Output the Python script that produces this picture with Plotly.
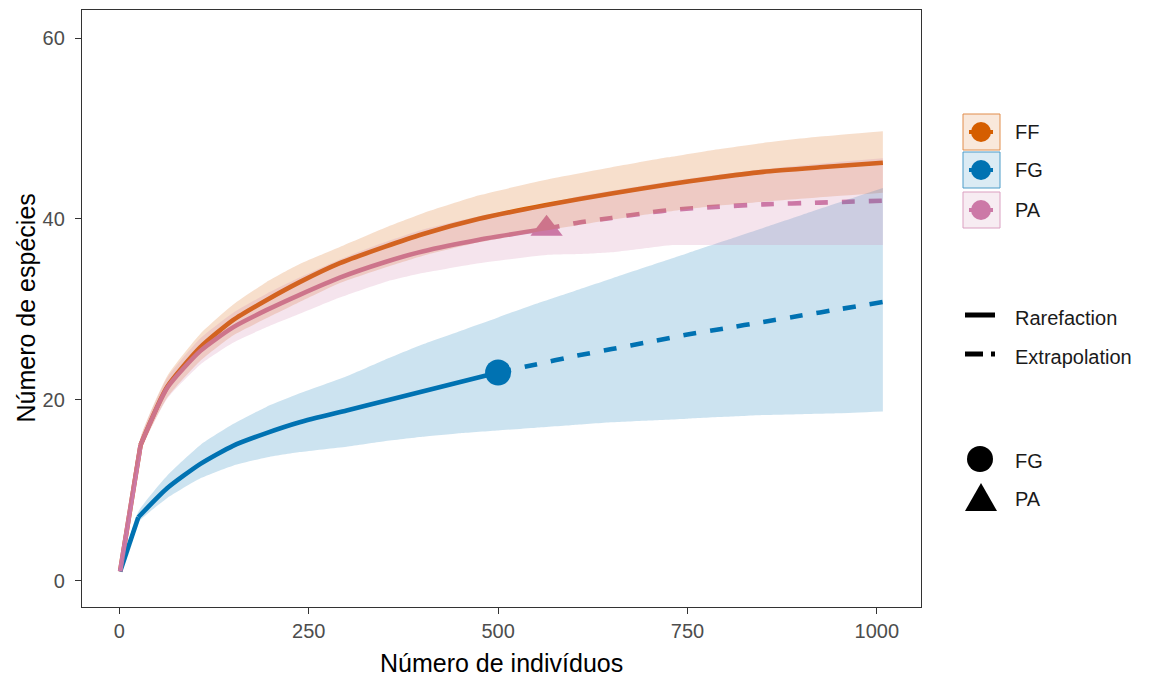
import plotly.graph_objects as go

# ---------------- data ----------------
# FF: rarefaction only
m_ff = [1, 28, 63, 107, 150, 194, 238, 291, 350, 400, 475, 562, 650, 724, 782, 850, 925, 1008]
s_ff = [1, 15.0, 21.4, 25.8, 28.8, 31.0, 33.0, 35.1, 36.9, 38.3, 40.0, 41.5, 42.8, 43.8, 44.5, 45.2, 45.7, 46.2]
ff_hi = [1, 15.8, 22.6, 27.3, 30.5, 33.0, 35.0, 36.9, 39.0, 40.6, 42.6, 44.3, 45.7, 46.8, 47.6, 48.4, 49.1, 49.7]
ff_lo = [1, 14.2, 20.2, 24.3, 27.1, 29.0, 30.8, 32.9, 34.6, 35.9, 37.4, 38.7, 39.9, 40.8, 41.4, 41.9, 42.4, 42.9]

# PA: rarefaction + extrapolation
m_pa = [1, 28, 63, 107, 150, 194, 238, 291, 350, 400, 475, 564]
s_pa = [1, 15.0, 21.3, 25.4, 28.0, 29.9, 31.6, 33.5, 35.2, 36.4, 37.7, 38.9]
pa_hi = [1, 15.8, 22.4, 26.8, 29.6, 31.7, 33.5, 35.5, 37.4, 38.8, 40.3, 41.7]
pa_lo = [1, 14.2, 20.1, 23.9, 26.3, 28.0, 29.5, 31.3, 33.0, 34.0, 35.1, 36.0]
m_pa_ext = [564, 607, 650, 700, 730, 782, 850, 925, 1008]
s_pa_ext = [38.9, 39.6, 40.1, 40.7, 41.0, 41.3, 41.6, 41.8, 42.0]
pa_ext_hi = [41.7, 42.5, 43.1, 43.8, 44.2, 44.8, 45.5, 46.1, 46.7]
pa_ext_lo = [36.0, 36.1, 36.3, 36.8, 37.1, 37.1, 37.1, 37.1, 37.1]

# FG: rarefaction + extrapolation
m_fg = [1, 25, 63, 107, 150, 194, 238, 300, 350, 400, 450, 500]
s_fg = [1, 7.0, 10.2, 12.9, 14.9, 16.3, 17.5, 18.8, 19.85, 20.9, 21.95, 23.0]
fg_hi = [1, 7.6, 11.6, 15.0, 17.3, 19.2, 20.7, 22.6, 24.4, 26.1, 27.6, 29.1]
fg_lo = [1, 6.4, 9.1, 11.3, 12.7, 13.6, 14.2, 14.8, 15.4, 15.9, 16.3, 16.6]
m_fg_ext = [500, 550, 600, 650, 700, 750, 800, 850, 900, 950, 1008]
s_fg_ext = [23.0, 23.9, 24.8, 25.6, 26.4, 27.2, 27.9, 28.6, 29.3, 30.0, 30.8]
fg_ext_hi = [29.1, 30.6, 32.0, 33.4, 34.8, 36.2, 37.6, 39.0, 40.4, 41.8, 43.4]
fg_ext_lo = [16.6, 16.9, 17.2, 17.5, 17.7, 17.9, 18.1, 18.3, 18.4, 18.5, 18.7]

# observed points
obs_sites = ["FG", "PA"]
obs_m = [500, 564]
obs_s = [23.0, 38.9]

sites = ["FF", "FG", "PA"]
colors = {"FF": "#D55E00", "FG": "#0072B2", "PA": "#CC79A7"}
fills = {"FF": "rgba(213,94,0,0.2)", "FG": "rgba(0,114,178,0.2)", "PA": "rgba(204,121,167,0.2)"}

x_ticks = [0, 250, 500, 750, 1000]
y_ticks = [0, 20, 40, 60]
x_title = "Número de indivíduos"
y_title = "Número de espécies"
linetype_labels = ["Rarefaction", "Extrapolation"]

FONT = "Liberation Sans, Arial, sans-serif"
W, H = 1154, 677
L, R, T, B = 82, 921, 10, 607
DASH = "13px,14px"
LW = 4.6
SMOOTH = 0.6

fig = go.Figure()


def line(x, y, site, dash="solid"):
    # first (steep) segment straight, rest smoothed
    fig.add_trace(go.Scatter(x=x[:2], y=y[:2], mode="lines", showlegend=False, hoverinfo="skip",
                             line=dict(color=colors[site], width=LW, dash=dash)))
    fig.add_trace(go.Scatter(x=x[1:], y=y[1:], mode="lines", showlegend=False, hoverinfo="skip",
                             line=dict(color=colors[site], width=LW, dash=dash,
                                       shape="spline", smoothing=SMOOTH)))


def ext_line(x, y, site):
    fig.add_trace(go.Scatter(x=x, y=y, mode="lines", showlegend=False, hoverinfo="skip",
                             line=dict(color=colors[site], width=LW, dash=DASH,
                                       shape="spline", smoothing=SMOOTH)))


line(m_ff, s_ff, "FF")
line(m_fg, s_fg, "FG")
ext_line(m_fg_ext, s_fg_ext, "FG")
line(m_pa, s_pa, "PA")
ext_line(m_pa_ext, s_pa_ext, "PA")

# observed points
symbols = {"FG": "circle", "PA": "triangle-up"}
sizes = {"FG": 26, "PA": 28}
for site, mx, sy in zip(obs_sites, obs_m, obs_s):
    fig.add_trace(go.Scatter(x=[mx], y=[sy], mode="markers", showlegend=False, hoverinfo="skip",
                             marker=dict(color=colors[site], symbol=symbols[site], size=sizes[site],
                                         line=dict(width=0))))


# ribbons (drawn on top, like ggiNEXT): lower edge, then upper edge filled to it
def ribbon(x, lo, hi, site):
    fig.add_trace(go.Scatter(x=x, y=lo, mode="lines", showlegend=False, hoverinfo="skip",
                             line=dict(width=0, color="rgba(0,0,0,0)", shape="spline", smoothing=0.5)))
    fig.add_trace(go.Scatter(x=x, y=hi, mode="lines", fill="tonexty", fillcolor=fills[site],
                             showlegend=False, hoverinfo="skip",
                             line=dict(width=0, color="rgba(0,0,0,0)", shape="spline", smoothing=0.5)))


ribbon(m_ff, ff_lo, ff_hi, "FF")
ribbon(m_fg + m_fg_ext[1:], fg_lo + fg_ext_lo[1:], fg_hi + fg_ext_hi[1:], "FG")
ribbon(m_pa + m_pa_ext[1:], pa_lo + pa_ext_lo[1:], pa_hi + pa_ext_hi[1:], "PA")


# ---------------- manual legend ----------------
def px(X):
    return (X - L) / (R - L)


def py(Y):
    return (B - Y) / (B - T)


shapes = []
ann = []
TXT = dict(family=FONT, size=20, color="#1a1a1a")
key_rows = {"FF": 132, "FG": 170, "PA": 210}
for site in sites:
    cy = key_rows[site]
    shapes.append(dict(type="rect", xref="paper", yref="paper", x0=px(963), x1=px(1000),
                       y0=py(cy + 18), y1=py(cy - 18), fillcolor=fills[site],
                       line=dict(color=colors[site], width=1), opacity=0.7, layer="above"))
    shapes.append(dict(type="line", xref="paper", yref="paper", x0=px(969), x1=px(993),
                       y0=py(cy), y1=py(cy), line=dict(color=colors[site], width=4), layer="above"))
    shapes.append(dict(type="circle", xref="paper", yref="paper", x0=px(971), x1=px(991),
                       y0=py(cy + 10), y1=py(cy - 10), fillcolor=colors[site],
                       line=dict(width=0), layer="above"))
    ann.append(dict(xref="paper", yref="paper", x=px(1013), y=py(cy), text=site, showarrow=False,
                    xanchor="left", yanchor="middle", font=TXT))

# linetype legend
shapes.append(dict(type="line", xref="paper", yref="paper", x0=px(965), x1=px(995),
                   y0=py(315), y1=py(315), line=dict(color="black", width=5), layer="above"))
shapes.append(dict(type="line", xref="paper", yref="paper", x0=px(965), x1=px(983),
                   y0=py(354), y1=py(354), line=dict(color="black", width=5), layer="above"))
shapes.append(dict(type="line", xref="paper", yref="paper", x0=px(991), x1=px(995),
                   y0=py(354), y1=py(354), line=dict(color="black", width=5), layer="above"))
for lab, cy in zip(linetype_labels, [318, 357]):
    ann.append(dict(xref="paper", yref="paper", x=px(1013), y=py(cy), text=lab, showarrow=False,
                    xanchor="left", yanchor="middle", font=TXT))

# shape legend
shapes.append(dict(type="circle", xref="paper", yref="paper", x0=px(967), x1=px(993),
                   y0=py(472), y1=py(446), fillcolor="black", line=dict(width=0), layer="above"))
tri = "M {} {} L {} {} L {} {} Z".format(px(965), py(511), px(997), py(511), px(981), py(483))
shapes.append(dict(type="path", xref="paper", yref="paper", path=tri, fillcolor="black",
                   line=dict(width=0), layer="above"))
for lab, cy in zip(obs_sites, [461, 499]):
    ann.append(dict(xref="paper", yref="paper", x=px(1013), y=py(cy), text=lab, showarrow=False,
                    xanchor="left", yanchor="middle", font=TXT))

# axis titles
ann.append(dict(xref="paper", yref="paper", x=0.5, y=py(663), text=x_title, showarrow=False,
                xanchor="center", yanchor="middle", font=dict(family=FONT, size=25, color="black")))
ann.append(dict(xref="paper", yref="paper", x=px(25), y=0.5, text=y_title, showarrow=False,
                textangle=-90, xanchor="center", yanchor="middle",
                font=dict(family=FONT, size=25, color="black")))

fig.update_layout(
    width=W, height=H,
    margin=dict(l=L, r=W - R, t=T, b=H - B, autoexpand=False),
    paper_bgcolor="white", plot_bgcolor="white",
    shapes=shapes, annotations=ann, showlegend=False,
    font=dict(family=FONT),
)
fig.update_xaxes(range=[-49.35, 1058.35], tickvals=x_ticks, ticktext=[str(v) for v in x_ticks],
                 showgrid=False, zeroline=False, showline=True, mirror=True,
                 linecolor="#333333", linewidth=1.3, ticks="outside", ticklen=6, tickwidth=1.3,
                 tickcolor="#333333", tickfont=dict(family=FONT, size=20, color="#4D4D4D"))
fig.update_yaxes(range=[-2.93, 63.1], tickvals=y_ticks, ticktext=[str(v) for v in y_ticks],
                 showgrid=False, zeroline=False, showline=True, mirror=True,
                 linecolor="#333333", linewidth=1.3, ticks="outside", ticklen=6, tickwidth=1.3,
                 tickcolor="#333333", tickfont=dict(family=FONT, size=20, color="#4D4D4D"),
                 ticklabelstandoff=6)

fig.write_html("out.html")
